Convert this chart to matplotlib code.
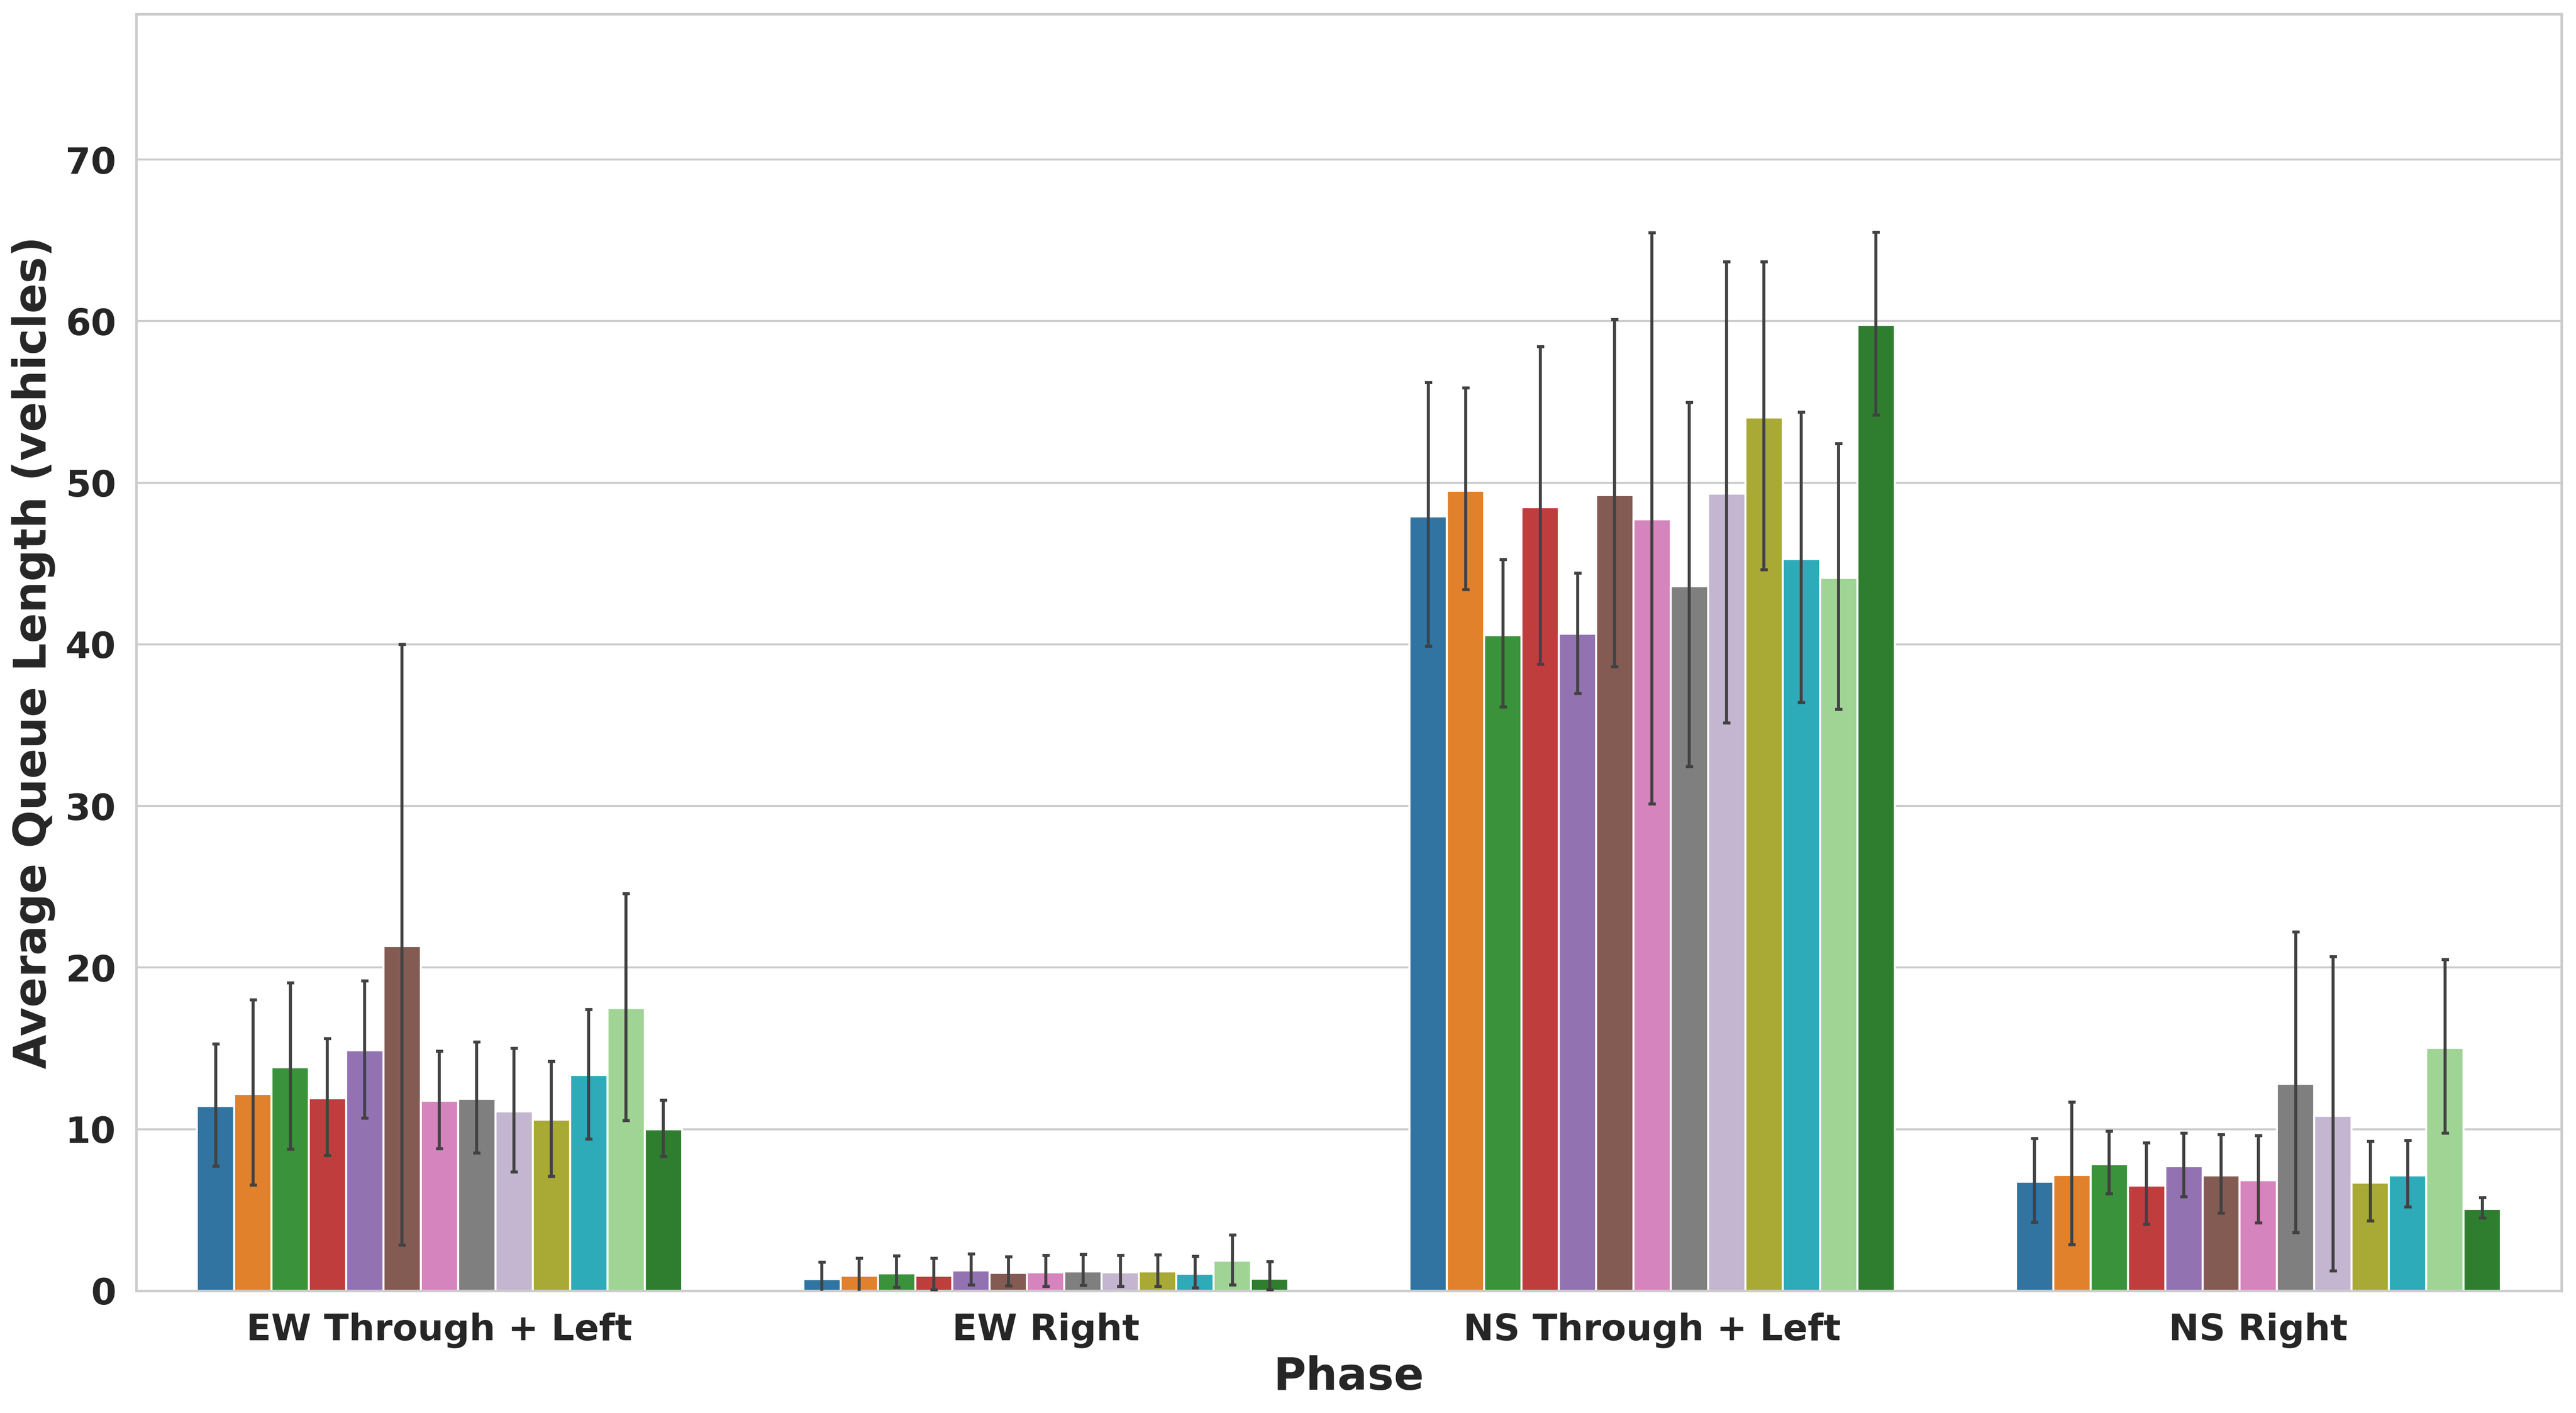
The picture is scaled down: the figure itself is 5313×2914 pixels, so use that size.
import matplotlib
matplotlib.use("Agg")
import matplotlib.pyplot as plt
import numpy as np
import seaborn as sns

phases = ["EW Through + Left", "EW Right", "NS Through + Left", "NS Right"]

# base colours of the 13 series (drawn with seaborn's 0.75 saturation)
base_colors = ["#1f77b4", "#ff7f0e", "#2ca02c", "#d62728", "#9467bd", "#8c564b",
               "#e377c2", "#7f7f7f", "#c5b0d5", "#bcbd22", "#17becf", "#98df8a",
               "forestgreen"]

# mean queue length per phase, one list per series
means = [
    [11.43, 0.73, 47.93, 6.74],
    [12.18, 0.94, 49.52, 7.18],
    [13.84, 1.09, 40.57, 7.84],
    [11.92, 0.94, 48.50, 6.52],
    [14.88, 1.25, 40.66, 7.71],
    [21.32, 1.12, 49.25, 7.14],
    [11.75, 1.15, 47.75, 6.83],
    [11.89, 1.21, 43.61, 12.82],
    [11.11, 1.15, 49.34, 10.84],
    [10.59, 1.19, 54.05, 6.70],
    [13.35, 1.06, 45.29, 7.14],
    [17.49, 1.85, 44.10, 15.02],
    [9.98, 0.76, 59.78, 5.07],
]

# lower / upper ends of the error bars
err_low = [
    [7.72, -0.30, 39.87, 4.23],
    [6.53, -0.13, 43.39, 2.86],
    [8.76, 0.20, 36.12, 5.99],
    [8.36, 0.07, 38.77, 4.10],
    [10.68, 0.35, 36.96, 5.81],
    [2.81, 0.29, 38.63, 4.80],
    [8.79, 0.26, 30.13, 4.19],
    [8.53, 0.32, 32.42, 3.61],
    [7.34, 0.26, 35.15, 1.23],
    [7.08, 0.28, 44.63, 4.32],
    [9.40, 0.18, 36.39, 5.20],
    [10.53, 0.35, 35.99, 9.74],
    [8.30, 0.07, 54.19, 4.49],
]
err_high = [
    [15.26, 1.76, 56.20, 9.43],
    [17.99, 2.01, 55.86, 11.67],
    [19.06, 2.15, 45.24, 9.87],
    [15.61, 2.00, 58.41, 9.16],
    [19.18, 2.27, 44.41, 9.74],
    [40.00, 2.09, 60.09, 9.65],
    [14.82, 2.19, 65.46, 9.60],
    [15.38, 2.25, 54.98, 22.20],
    [15.00, 2.19, 63.66, 20.66],
    [14.19, 2.21, 63.66, 9.25],
    [17.41, 2.13, 54.36, 9.30],
    [24.57, 3.45, 52.42, 20.48],
    [11.78, 1.80, 65.51, 5.77],
]

sns.set_theme(style="whitegrid")
plt.rcParams['font.family'] = ['DejaVu Sans']

fig = plt.figure(figsize=(5313 / 300, 2914 / 300), dpi=300)
ax = fig.add_axes([0.0529, 0.0865, 0.9415, 0.9035])

n = len(means)
w = 0.8 / n
x = np.arange(len(phases))
for j in range(n):
    xs = x - 0.4 + (j + 0.5) * w
    m = np.array(means[j])
    lo = m - np.array(err_low[j])
    hi = np.array(err_high[j]) - m
    ax.bar(xs, m, width=w, color=sns.desaturate(base_colors[j], 0.75),
           edgecolor="white", linewidth=1, zorder=2)
    ax.errorbar(xs, m, yerr=[lo, hi], fmt="none", ecolor="#424242",
                elinewidth=1.5, capsize=1.8, capthick=1.5, zorder=3)

ax.set_xlim(-0.5, 3.5)
ax.set_ylim(0, 79)
ax.set_yticks(np.arange(0, 71, 10))
ax.set_xticks(x)
ax.set_xticklabels(phases)
ax.xaxis.grid(False)
ax.set_axisbelow(True)
ax.tick_params(axis="x", labelsize=18, length=0, pad=10.7)
ax.tick_params(axis="y", labelsize=18, length=0, pad=10)
for lab in ax.get_xticklabels() + ax.get_yticklabels():
    lab.set_fontweight("bold")
ax.set_xlabel("Phase", fontsize=22, fontweight="bold", labelpad=3.5)
ax.set_ylabel("Average Queue Length (vehicles)", fontsize=22, fontweight="bold", labelpad=5)

fig.savefig("out.png", dpi=300)
